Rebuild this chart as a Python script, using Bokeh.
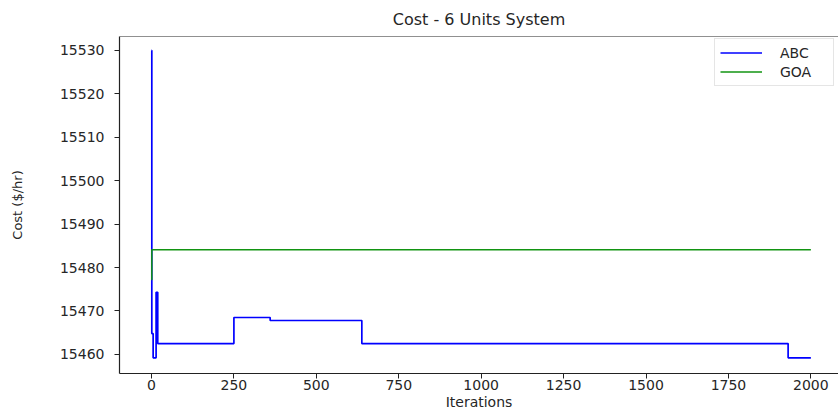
from bokeh.plotting import figure
from bokeh.models import Range1d, FixedTicker, Legend, LegendItem, Span
from bokeh.embed import file_html
from bokeh.resources import INLINE

# ---- data ----
abc_iter = [0, 1, 5, 14, 19, 250, 360, 638, 1931, 2000]
abc_cost = [15530.0, 15464.8, 15459.2, 15474.3, 15462.5, 15468.5, 15467.8, 15462.5, 15459.2, 15459.2]
goa_iter = [0, 1, 2000]
goa_cost = [15477.2, 15484.1, 15484.1]
x_ticks = [0, 250, 500, 750, 1000, 1250, 1500, 1750, 2000]
y_ticks = [15460, 15470, 15480, 15490, 15500, 15510, 15520, 15530]

FONT = "DejaVu Sans"
TXT = "#262626"

p = figure(
    width=838, height=412,
    output_backend="svg", toolbar_location=None,
    x_range=Range1d(-97, 2083.8), y_range=Range1d(15455.6, 15533.2),
    min_border_left=119, min_border_top=34, min_border_right=0, min_border_bottom=0,
    title="Cost - 6 Units System",
)
p.background_fill_color = "white"
p.border_fill_color = "white"
p.outline_line_color = None
p.grid.visible = False

p.title.text_font = FONT
p.title.text_font_size = "16px"
p.title.text_font_style = "normal"
p.title.text_color = TXT
p.title.align = "center"
p.title.standoff = 15

for ax in (p.xaxis[0], p.yaxis[0]):
    ax.axis_line_color = "#222222"
    ax.axis_line_width = 1.2
    ax.major_tick_line_color = "#222222"
    ax.major_tick_out = 5
    ax.major_tick_in = 0
    ax.minor_tick_line_color = None
    ax.major_label_text_font = FONT
    ax.major_label_text_font_size = "14px"
    ax.major_label_text_color = TXT
    ax.axis_label_text_font = FONT
    ax.axis_label_text_font_style = "normal"
    ax.axis_label_text_color = TXT

p.xaxis.ticker = FixedTicker(ticks=x_ticks)
p.yaxis.ticker = FixedTicker(ticks=y_ticks)
p.xaxis.axis_label = "Iterations"
p.xaxis.axis_label_text_font_size = "14px"
p.xaxis.major_label_standoff = 1
p.xaxis.axis_label_standoff = 1
p.yaxis.axis_label = "Cost ($/hr)"
p.yaxis.axis_label_text_font_size = "13px"
p.yaxis.major_label_standoff = 10
p.yaxis.axis_label_standoff = 32

# top border of the axes box
top_line = Span(location=15533.2, dimension="width", line_color="#222222", line_width=1.2)
p.add_layout(top_line)

r_abc = p.step(abc_iter, abc_cost, mode="after", line_color="#0000ff", line_width=1.7)
r_goa = p.step(goa_iter, goa_cost, mode="after", line_color="#129412", line_width=1.5)

legend = Legend(
    items=[LegendItem(label="ABC", renderers=[r_abc]), LegendItem(label="GOA", renderers=[r_goa])],
    location=(595, 287),
)
legend.border_line_color = "#cccccc"
legend.border_line_width = 1
legend.background_fill_color = "white"
legend.background_fill_alpha = 0.85
legend.label_text_font = FONT
legend.label_text_font_size = "14px"
legend.label_text_color = TXT
legend.glyph_width = 42
legend.glyph_height = 17
legend.label_height = 17
legend.label_width = 48
legend.label_standoff = 18
legend.padding = 5
legend.spacing = 2
legend.margin = 0
p.add_layout(legend)

open("out.html", "w").write(file_html(p, INLINE))
